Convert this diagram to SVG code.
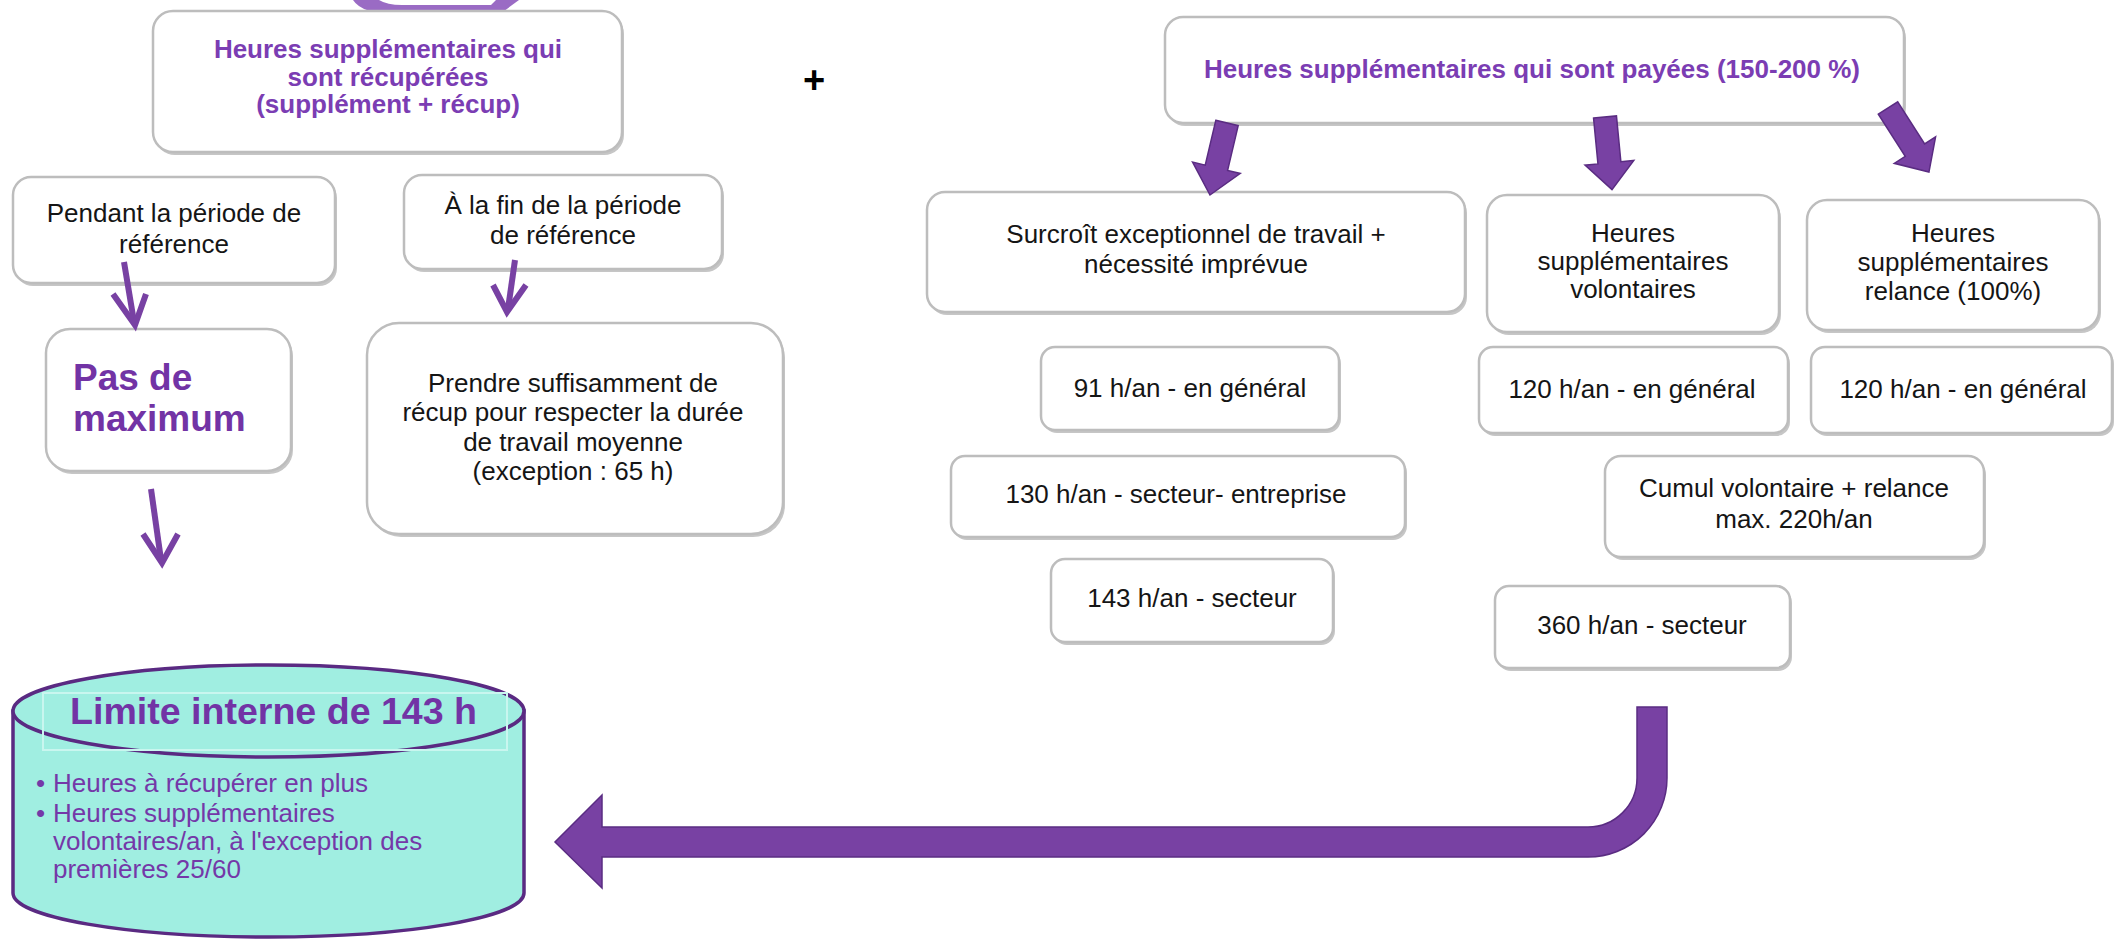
<svg xmlns="http://www.w3.org/2000/svg" width="2114" height="940" viewBox="0 0 2114 940">
<style>
.sh{fill:#c6c6c6}
.bx{fill:#ffffff;stroke:#bdbdbd;stroke-width:2.5}
.t{font-family:"Liberation Sans",Arial,sans-serif;font-size:26px;fill:#151515;text-anchor:middle}
.tt{font-family:"Liberation Sans",Arial,sans-serif;font-size:26px;font-weight:bold;fill:#7B3DB3;text-anchor:middle}
.pm{font-family:"Liberation Sans",Arial,sans-serif;font-size:37px;font-weight:bold;fill:#7233A5}
.ct{font-family:"Liberation Sans",Arial,sans-serif;font-size:36px;font-weight:bold;fill:#7233A5}
.bl{font-family:"Liberation Sans",Arial,sans-serif;font-size:26px;fill:#7438A8}
.ba{fill:#7841A3;stroke:#5A2C82;stroke-width:1.5;stroke-linejoin:miter}
.la{fill:none;stroke:#7841A3;stroke-width:6;stroke-linecap:butt;stroke-linejoin:miter}
</style>
<rect x="0" y="0" width="2114" height="940" fill="#ffffff"/>

<!-- partial shape at top -->
<path d="M353,0 Q362,14 396,14 L500,14 L519,0 Z M379,0 Q387,5 402,5 L491,5 L496,0 Z" fill="#9A6BC4" fill-rule="evenodd"/>

<g id="n-recuperees">
<rect class="sh" x="155" y="14" width="469" height="141" rx="20"/>
<rect class="bx" x="153" y="11" width="469" height="141" rx="20"/>
<text class="tt" x="388" y="58">Heures supplémentaires qui</text>
<text class="tt" x="388" y="86">sont récupérées</text>
<text class="tt" x="388" y="113">(supplément + récup)</text>
</g>

<g id="n-plus">
<text x="814" y="93" font-family="Liberation Sans, Arial, sans-serif" font-size="38" font-weight="bold" fill="#000" text-anchor="middle">+</text>
</g>

<g id="n-pendant">
<rect class="sh" x="15" y="180" width="322" height="106" rx="18"/>
<rect class="bx" x="13" y="177" width="322" height="106" rx="18"/>
<text class="t" x="174" y="222">Pendant la période de</text>
<text class="t" x="174" y="253">référence</text>
</g>

<g id="n-alafin">
<rect class="sh" x="406" y="178" width="318" height="94" rx="18"/>
<rect class="bx" x="404" y="175" width="318" height="94" rx="18"/>
<text class="t" x="563" y="214">À la fin de la période</text>
<text class="t" x="563" y="244">de référence</text>
</g>

<g id="n-pasmax">
<rect class="sh" x="48" y="332" width="245" height="142" rx="24"/>
<rect class="bx" x="46" y="329" width="245" height="142" rx="24"/>
<text class="pm" x="73" y="390">Pas de</text>
<text class="pm" x="73" y="431">maximum</text>
</g>

<g id="n-prendre">
<rect class="sh" x="369" y="326" width="416" height="211" rx="32"/>
<rect class="bx" x="367" y="323" width="416" height="211" rx="32"/>
<text class="t" x="573" y="392">Prendre suffisamment de</text>
<text class="t" x="573" y="421">récup pour respecter la durée</text>
<text class="t" x="573" y="451">de travail moyenne</text>
<text class="t" x="573" y="480">(exception : 65 h)</text>
</g>

<g id="n-payees">
<rect class="sh" x="1167" y="20" width="739" height="106" rx="18"/>
<rect class="bx" x="1165" y="17" width="739" height="106" rx="18"/>
<text class="tt" x="1532" y="78">Heures supplémentaires  qui sont payées  (150-200 %)</text>
</g>

<g id="n-surcroit">
<rect class="sh" x="929" y="195" width="538" height="120" rx="18"/>
<rect class="bx" x="927" y="192" width="538" height="120" rx="18"/>
<text class="t" x="1196" y="243">Surcroît exceptionnel de travail +</text>
<text class="t" x="1196" y="273">nécessité imprévue</text>
</g>

<g id="n-volontaires">
<rect class="sh" x="1489" y="198" width="292" height="137" rx="20"/>
<rect class="bx" x="1487" y="195" width="292" height="137" rx="20"/>
<text class="t" x="1633" y="242">Heures</text>
<text class="t" x="1633" y="270">supplémentaires</text>
<text class="t" x="1633" y="298">volontaires</text>
</g>

<g id="n-relance">
<rect class="sh" x="1809" y="203" width="292" height="130" rx="20"/>
<rect class="bx" x="1807" y="200" width="292" height="130" rx="20"/>
<text class="t" x="1953" y="242">Heures</text>
<text class="t" x="1953" y="271">supplémentaires</text>
<text class="t" x="1953" y="300">relance (100%)</text>
</g>

<g id="n-91">
<rect class="sh" x="1043" y="350" width="298" height="83" rx="14"/>
<rect class="bx" x="1041" y="347" width="298" height="83" rx="14"/>
<text class="t" x="1190" y="397">91 h/an - en général</text>
</g>

<g id="n-120a">
<rect class="sh" x="1481" y="350" width="309" height="86" rx="14"/>
<rect class="bx" x="1479" y="347" width="309" height="86" rx="14"/>
<text class="t" x="1632" y="398">120 h/an - en général</text>
</g>

<g id="n-120b">
<rect class="sh" x="1813" y="350" width="301" height="86" rx="14"/>
<rect class="bx" x="1811" y="347" width="301" height="86" rx="14"/>
<text class="t" x="1963" y="398">120 h/an - en général</text>
</g>

<g id="n-130">
<rect class="sh" x="953" y="459" width="454" height="81" rx="14"/>
<rect class="bx" x="951" y="456" width="454" height="81" rx="14"/>
<text class="t" x="1176" y="503">130 h/an - secteur- entreprise</text>
</g>

<g id="n-cumul">
<rect class="sh" x="1607" y="459" width="379" height="101" rx="16"/>
<rect class="bx" x="1605" y="456" width="379" height="101" rx="16"/>
<text class="t" x="1794" y="497">Cumul volontaire + relance</text>
<text class="t" x="1794" y="528">max. 220h/an</text>
</g>

<g id="n-143">
<rect class="sh" x="1053" y="562" width="282" height="83" rx="14"/>
<rect class="bx" x="1051" y="559" width="282" height="83" rx="14"/>
<text class="t" x="1192" y="607">143 h/an - secteur</text>
</g>

<g id="n-360">
<rect class="sh" x="1497" y="589" width="295" height="82" rx="14"/>
<rect class="bx" x="1495" y="586" width="295" height="82" rx="14"/>
<text class="t" x="1642" y="634">360 h/an - secteur</text>
</g>

<g id="n-limite">
<path d="M13,711 L13,893 A255.5,44 0 0 0 524,893 L524,711 Z" fill="#A0EEE1" stroke="#5A2A82" stroke-width="3.5"/>
<ellipse cx="268.5" cy="711" rx="255.5" ry="46" fill="#A0EEE1" stroke="#5A2A82" stroke-width="3.5"/>
<rect x="43" y="693" width="464" height="57" fill="none" stroke="#C9F6EF" stroke-width="2"/>
<text class="ct" x="70" y="724" textLength="407" lengthAdjust="spacingAndGlyphs">Limite interne de 143 h</text>
<text class="bl" x="36" y="792" font-size="20">•</text>
<text class="bl" x="53" y="792">Heures à récupérer en plus</text>
<text class="bl" x="36" y="822" font-size="20">•</text>
<text class="bl" x="53" y="822">Heures supplémentaires</text>
<text class="bl" x="53" y="850">volontaires/an, à l'exception des</text>
<text class="bl" x="53" y="878">premières 25/60</text>
</g>

<g id="connectors">
<line class="la" x1="124" y1="262" x2="134" y2="322"/>
<polyline class="la" points="113,294 135,325 146,294"/>
<line class="la" x1="515" y1="260" x2="508" y2="309"/>
<polyline class="la" points="493,285 507,312 526,285"/>
<line class="la" x1="151" y1="489" x2="161" y2="560"/>
<polyline class="la" points="143,534 162,563 178,534"/>
<polygon class="ba" transform="translate(1227,123) rotate(13.3)" points="-11.5,0 11.5,0 11.5,46 24.5,46 0,74 -24.5,46 -11.5,46"/>
<polygon class="ba" transform="translate(1605,117) rotate(-5.5)" points="-11.5,0 11.5,0 11.5,46 24.5,46 0,73 -24.5,46 -11.5,46"/>
<polygon class="ba" transform="translate(1888,108) rotate(-32.6)" points="-11.5,0 11.5,0 11.5,50 24.5,50 0,76 -24.5,50 -11.5,50"/>
<path class="ba" d="M1637,707 L1667,707 L1667,778 A79,79 0 0 1 1588,857 L602,857 L602,888 L555,842 L602,795 L602,827 L1588,827 A49,49 0 0 0 1637,778 Z"/>
</g>
</svg>
